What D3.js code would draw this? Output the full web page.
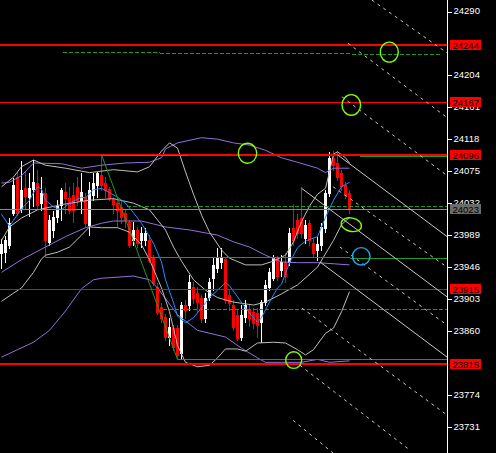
<!DOCTYPE html>
<html><head><meta charset="utf-8">
<script src="https://cdn.jsdelivr.net/npm/d3@7"></script>
<style>html,body{margin:0;padding:0;background:#000;overflow:hidden}</style>
</head><body><svg id="c" width="496" height="453"></svg>
<script>
// ---- data ----
const opens  = [23964,23965,23975,24018,24066,24024,24051,24039,24050,24058,24031,24045,23979,23995,24012,24029,24046,24038,24042,24053,24035,24039,24002,24042,24055,24069,24058,24050,24037,24031,24026,24018,24006,23981,23995,23981,23981,23981,23957,23918,23891,23878,23851,23863,23863,23830,23894,23894,23918,23910,23904,23877,23905,23930,23944,23952,23956,23908,23894,23881,23851,23878,23887,23885,23883,23871,23898,23918,23930,23957,23941,23952,23952,23998,24008,24011,23984,24004,23977,23968,23975,23998,24045,24092,24085,24072,24055,24045];
const highs  = [23983,23987,24011,24065,24073,24088,24073,24072,24089,24076,24066,24051,24015,24020,24035,24051,24058,24053,24058,24066,24072,24045,24059,24072,24073,24096,24066,24053,24039,24039,24035,24022,24008,24006,23999,23999,23998,23988,23961,23924,23897,23882,23877,23867,23867,23898,23901,23934,23925,23918,23908,23910,23930,23957,23971,23971,23959,23914,23901,23887,23894,23901,23894,23890,23890,23901,23928,23944,23961,23960,23961,23964,23998,24030,24016,24053,24008,24008,23984,23986,24004,24049,24100,24101,24101,24076,24059,24049];
const lows   = [23944,23952,23971,24015,24015,24019,24024,24014,24027,24024,24022,23959,23975,23986,24006,24008,24018,24018,24006,24029,24018,23999,23988,24035,24039,24049,24039,24035,24018,23999,24004,23999,23972,23975,23972,23972,23975,23952,23921,23882,23871,23847,23840,23834,23821,23823,23877,23887,23897,23885,23871,23871,23901,23914,23938,23944,23897,23887,23860,23847,23847,23871,23866,23863,23851,23844,23894,23914,23928,23928,23933,23925,23948,23975,23984,23986,23977,23975,23959,23955,23968,23992,24041,24076,24062,24049,24038,24018];
const closes = [23976,23981,24004,24055,24018,24049,24041,24051,24059,24029,24045,23981,24008,24012,24027,24049,24038,24022,24022,24035,24046,24004,24049,24058,24072,24055,24049,24038,24030,24022,24012,24008,23975,23995,23977,23991,23991,23955,23924,23885,23877,23851,23865,23838,23827,23894,23887,23925,23904,23898,23877,23904,23925,23948,23957,23959,23901,23897,23865,23850,23881,23894,23877,23870,23867,23898,23921,23938,23957,23933,23952,23933,23991,23981,23991,23991,24002,23981,23964,23976,23999,24045,24092,24082,24066,24054,24042,24023];

// visible axis ticks (24247 and 23817 sit fully under the price boxes)
const yTicks = [24290,24204,24161,24118,24075,24032,23989,23946,23903,23860,23774,23731];
const redLevels = [24244,24167,24096,23915,23815];

const blueMA = [[0,24016],[2,24000],[3,24008],[5,24023],[7,24035],[8,24045],[9,24053],[10,24050],[11,24035],[13,24026],[15,24022],[17,24031],[20,24039],[21,24038],[23,24049],[25,24051],[27,24045],[29,24039],[31,24031],[33,24018],[35,24004],[36,23995],[38,23977],[40,23952],[41,23928],[43,23897],[44,23879],[46,23870],[48,23877],[50,23890],[52,23904],[54,23914],[56,23924],[57,23920],[59,23905],[61,23890],[63,23877],[64,23871],[65,23877],[67,23898],[69,23917],[70,23922],[72,23951],[74,23971],[76,23980],[78,23984],[79,23986],[81,24012],[83,24035],[85,24053],[87,24059]];
const upperGray = [[0,24053],[3,24066],[5,24080],[8,24089],[11,24082],[16,24078],[22,24072],[28,24076],[34,24073],[37,24080],[40,24101],[42,24112],[44,24105],[46,24073],[48,24043],[50,24015],[52,23992],[55,23968],[57,23957],[61,23948],[65,23948],[68,23953],[71,23961],[73,23979],[75,24006],[77,24027],[79,24043],[81,24051],[82,24073],[83,24097],[84,24100],[86,24092],[87,24085]];
const midGray = [[0,23981],[2,23999],[5,24011],[9,24022],[15,24029],[22,24035],[28,24037],[33,24031],[37,24022],[41,23995],[43,23972],[45,23953],[48,23928],[51,23914],[54,23904],[58,23898],[63,23894],[66,23898],[70,23909],[74,23921],[79,23945],[83,23981],[85,24002],[87,24012]];
const lowerGray = [[0,23899],[3,23910],[5,23917],[8,23938],[10,23956],[11,23961],[14,23965],[17,23972],[20,23988],[22,23999],[25,23998],[29,23998],[32,23992],[35,23975],[37,23955],[40,23917],[42,23885],[44,23840],[46,23817],[49,23811],[52,23813],[54,23823],[56,23835],[59,23835],[61,23832],[64,23843],[68,23844],[71,23843],[74,23834],[76,23827],[78,23834],[81,23856],[83,23863],[85,23885],[87,23912]];
const upperPurple = [[0,24058],[2,24059],[5,24068],[8,24085],[15,24084],[20,24078],[25,24082],[31,24085],[37,24086],[40,24092],[41,24104],[44,24112],[50,24119],[54,24117],[58,24112],[62,24109],[66,24102],[70,24092],[74,24086],[79,24078],[81,24072],[83,24078],[87,24078]];
const midPurple = [[0,23938],[5,23955],[11,23972],[16,23986],[21,23998],[25,24004],[28,24007],[35,24007],[41,23999],[47,23995],[54,23988],[58,23979],[62,23972],[66,23961],[70,23952],[74,23951],[79,23951],[87,23948]];
const lowerPurple = [[0,23824],[4,23834],[8,23844],[12,23860],[16,23886],[20,23916],[23,23928],[25,23930],[33,23933],[37,23928],[39,23917],[44,23881],[49,23860],[56,23851],[60,23836],[64,23823],[66,23817],[70,23817],[75,23817],[79,23821],[82,23817],[87,23819]];

const solidFan = [[[84,24096],[111.4,23986]],[[75,24051],[111.4,23905]],[[79.6,23952],[111.4,23824]]];
const dottedFan = [[[92.6,24304],[111.4,24233]],[[86.6,24246],[111.4,24146]],[[85.1,24174],[111.4,24068]],[[82.9,24053],[111.4,23945]],[[84.6,23972],[111.4,23867]],[[75.1,23890],[111.4,23746]],[[74.6,23813],[102.1,23699]],[[72.9,23739],[82.9,23695]]];
const greenSolid = [[24096,25,46.6],[24094,89.6,111.4],[23959,11,87],[23957,87,111.4],[23821,44,111.4]];
const greenDiag = [[25,24096],[44,23821]];
const greenDashed = [[24234,15.4,39.6],[24233,39.6,87.6],[24231,87.6,109.6],[24027,31.4,111.4],[23889,40.4,111.4]];
const circles = [[96.95,24234],[87.45,24163],[61.5,24098],[87.45,24002],[89.93,23959.5],[73.05,23820]];

// ---- drawing ----
const svg = d3.select('#c');
const x = d3.scaleLinear().domain([-0.375,111.375]).range([0,447]);
const y = d3.scaleLinear().domain([23731,24290]).range([426.3,10.5]);
const px = v => Math.round(y(v));
svg.append('rect').attr('width',496).attr('height',453).attr('fill','#000');

// candles
const idx = d3.range(opens.length);
const cg = svg.append('g').attr('shape-rendering','crispEdges');
idx.forEach(i=>{
  const up = closes[i] >= opens[i];
  const col = up ? '#ffffff' : '#ff0000';
  const cx = Math.round(x(i) - 1.5);
  cg.append('rect').attr('x',cx+1).attr('width',1).attr('y',px(highs[i])).attr('height',Math.max(1,px(lows[i])-px(highs[i])+1)).attr('fill',col);
  const t = px(Math.max(opens[i],closes[i])), b = px(Math.min(opens[i],closes[i]));
  cg.append('rect').attr('x',cx).attr('width',3).attr('y',t).attr('height',Math.max(1,b-t+1)).attr('fill',col);
});

// indicators
const line = d3.line().x(d=>x(d[0])).y(d=>y(d[1]));
const ig = svg.append('g').attr('fill','none');
[[upperPurple,'#9370db'],[midPurple,'#9370db'],[lowerPurple,'#9370db'],
 [upperGray,'#bdbdbd'],[midGray,'#bdbdbd'],[lowerGray,'#bdbdbd'],[blueMA,'#1e90ff']]
 .forEach(([d,c])=>ig.append('path').attr('d',line(d)).attr('stroke',c).attr('stroke-width',1));

// objects
const g = svg.append('g');
const hline = (v,b0,b1,col,w,dash) => {
  const yy = px(v) + (w%2 ? 0.5 : 0);
  g.append('line').attr('x1',x(b0)).attr('x2',Math.min(447,x(b1))).attr('y1',yy).attr('y2',yy)
   .attr('stroke',col).attr('stroke-width',w).attr('shape-rendering','crispEdges')
   .attr('stroke-dasharray',dash||null);
};
redLevels.forEach(v=>hline(v,-0.375,111.4,'#ff0000',[24244,24096,23815].includes(v)?2:1));
hline(closes[closes.length-1],-0.375,111.4,'#8a8a8a',1);
greenSolid.forEach(([v,a,b])=>hline(v,a,b,'#1f9a1f',1));
greenDashed.forEach(([v,a,b])=>hline(v,a,b,'#1f9a1f',1,'4,2'));
g.append('path').attr('d',line(greenDiag)).attr('stroke','#1f9a1f').attr('fill','none');
solidFan.forEach(d=>g.append('path').attr('d',line(d)).attr('stroke','#c8c8c8').attr('fill','none'));
dottedFan.forEach(d=>g.append('path').attr('d',line(d)).attr('stroke','#c8c8c8').attr('stroke-dasharray','3,4').attr('fill','none'));

const crad = [[9,10,0],[9.3,10.3,0],[9.2,10,0],[10.3,6.7,12],[8.8,8.7,0],[8,8.3,0]];
circles.forEach((d,i)=>{
  const [rx,ry,rot]=crad[i];
  g.append('ellipse').attr('cx',x(d[0])).attr('cy',y(d[1])).attr('rx',rx).attr('ry',ry)
   .attr('transform',`rotate(${rot},${x(d[0])},${y(d[1])})`)
   .attr('fill','none').attr('stroke', i===4 ? '#1ea6f0' : '#7fff00').attr('stroke-width',1.4);
});

// price scale area
svg.append('rect').attr('x',447).attr('y',0).attr('width',49).attr('height',453).attr('fill','#000');
const ax = svg.append('g').attr('transform','translate(447.5,0)')
  .call(d3.axisRight(y).tickValues(yTicks).tickSize(4).tickPadding(2).tickFormat(d3.format('d')));
ax.select('.domain').remove();
ax.selectAll('line').attr('stroke','#fff').attr('shape-rendering','crispEdges')
  .attr('transform',d=>`translate(0,${px(d)+0.5-y(d)})`);
ax.selectAll('text').attr('fill','#fff').attr('font-family','Liberation Sans, Arial, sans-serif').attr('font-size','9.5px');
svg.append('line').attr('x1',447.5).attr('x2',447.5).attr('y1',0).attr('y2',453).attr('stroke','#fff').attr('shape-rendering','crispEdges');

// price labels
const lab = (v,fill)=>{
  const yy = px(v);
  svg.append('rect').attr('x',450).attr('y',yy-5).attr('width',31).attr('height',10).attr('fill',fill).attr('shape-rendering','crispEdges');
  svg.append('text').attr('x',452.5).attr('y',yy+3.5).attr('font-family','Liberation Sans, Arial, sans-serif').attr('font-size','9.5px').attr('fill','#000').text(v);
};
redLevels.forEach(v=>lab(v,'#ff0000'));
lab(closes[closes.length-1],'#6b6b6b');
</script></body></html>
